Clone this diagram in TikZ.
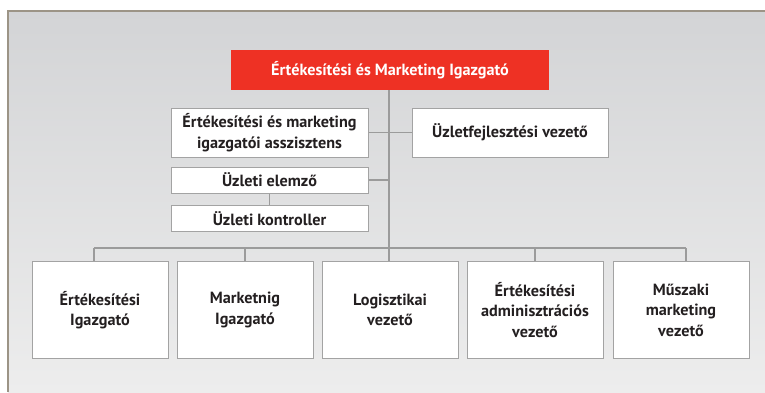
\documentclass[tikz,border=0pt]{standalone}
\usepackage{fontspec}
\setmainfont{PT Sans}
\definecolor{bgtop}{HTML}{D3D4D6}
\definecolor{bgbot}{HTML}{EDEDED}
\definecolor{framec}{HTML}{9C9486}
\definecolor{redbox}{HTML}{EE3124}
\definecolor{linec}{HTML}{9B9B9B}
\definecolor{boxline}{HTML}{A3A3A3}
\definecolor{txt}{HTML}{231F20}
\tikzset{
  box/.style={draw=boxline, line width=1pt, fill=white, inner sep=0pt, align=center,
    font=\fontsize{16.2}{20.5}\selectfont\bfseries, text=txt},
  topbox/.style={fill=redbox, inner sep=0pt, align=center,
    font=\fontsize{16.2}{20.5}\selectfont\bfseries, text=white},
  conn/.style={draw=linec, line width=1.3pt}
}
\begin{document}
\begin{tikzpicture}[x=1pt,y=-1pt]
\useasboundingbox (0,0) rectangle (765,392);
\shade[top color=bgtop, bottom color=bgbot] (8,11) rectangle (765,392);
\draw[framec, line width=1.3pt] (8,392) -- (8,11) -- (765,11);

\node[topbox, minimum width=318pt, minimum height=40pt] (top) at (390,70) {Értékesítési és Marketing Igazgató};
\node[box, minimum width=197pt, minimum height=49pt] (asst) at (269.5,132.5) {Értékesítési és marketing\\igazgatói asszisztens};
\node[box, minimum width=196pt, minimum height=49pt] (uzlf) at (510,132.5) {Üzletfejlesztési vezető};
\node[box, minimum width=197pt, minimum height=26pt] (elem) at (269.5,180) {Üzleti elemző};
\node[box, minimum width=197pt, minimum height=26pt] (kont) at (269.5,218.7) {Üzleti kontroller};

\node[box, minimum width=136pt, minimum height=97pt] (b1) at (100,310) {Értékesítési\\Igazgató};
\node[box, minimum width=136pt, minimum height=97pt] (b2) at (245,310) {Marketnig\\Igazgató};
\node[box, minimum width=136pt, minimum height=97pt] (b3) at (390,310) {Logisztikai\\vezető};
\node[box, minimum width=136pt, minimum height=97pt] (b4) at (535,310) {Értékesítési\\adminisztrációs\\vezető};
\node[box, minimum width=136pt, minimum height=97pt] (b5) at (681,310) {Műszaki\\marketing\\vezető};

\coordinate (bus) at (389,248);
\coordinate (busL) at (94,248);
\coordinate (busR) at (686,248);

\draw[conn] (top.south -| bus) -- (bus);
\draw[conn] (asst.east) -- (uzlf.west);
\draw[conn] (elem.east) -- (elem.east -| bus);
\draw[conn] (elem.south) -- (kont.north);
\draw[conn] (busL) -- (busR);
\draw[conn] (busL) -- (busL |- b1.north);
\draw[conn] (b2.north) -- (b2.north |- bus);
\draw[conn] (bus) -- (bus |- b3.north);
\draw[conn] (b4.north) -- (b4.north |- bus);
\draw[conn] (busR) -- (busR |- b5.north);
\end{tikzpicture}
\end{document}
